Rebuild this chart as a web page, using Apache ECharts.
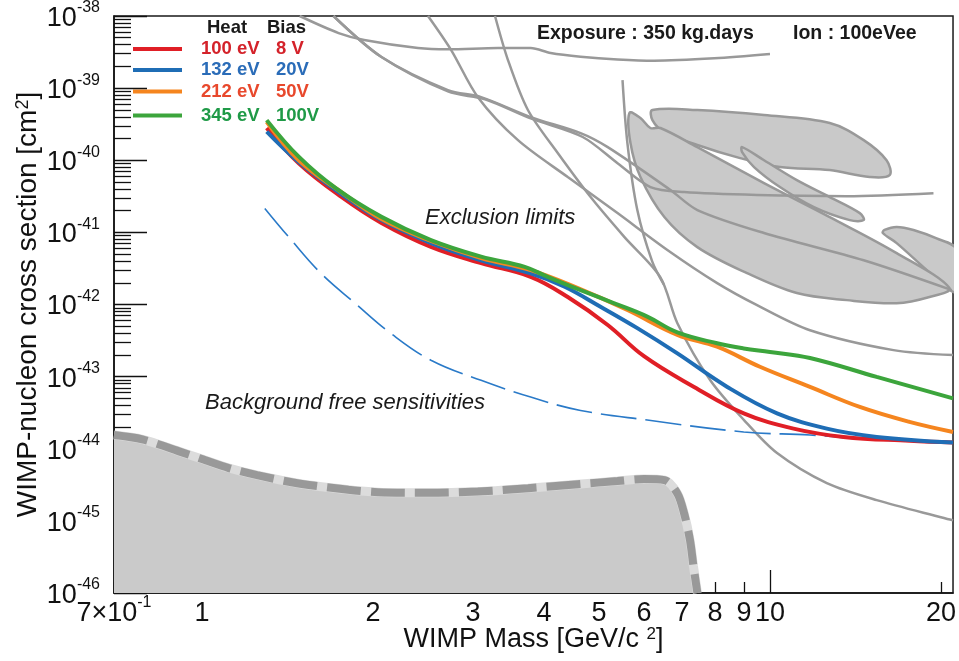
<!DOCTYPE html>
<html><head><meta charset="utf-8">
<script src="https://cdn.jsdelivr.net/npm/echarts@6/dist/echarts.min.js"></script>
<style>html,body{margin:0;padding:0;background:#fff}#c{width:959px;height:661px}</style>
</head><body><div id="c"></div>
<script>
// ---------------- axis ranges & ticks ----------------
const X_MIN = 0.7, X_MAX = 21;
const Y_MIN_EXP = -46, Y_MAX_EXP = -38;           // cross-section range 1e-46 .. 1e-38 cm^2
const xMinorTicks = [0.7, 0.8, 0.9, 2, 3, 4, 5, 6, 7, 8, 9, 20];
const xMajorTicks = [1, 10];
const xLabelValues = [0.7, 1, 2, 3, 4, 5, 6, 7, 8, 9, 10, 20];
const yDecadeExponents = [-46, -45, -44, -43, -42, -41, -40, -39, -38];
const yMinorMultipliers = [2, 3, 4, 5, 6, 7, 8, 9];

// ---------------- exclusion limits (cm^2) ----------------
const redMass   = [1.30, 1.48, 1.76, 2.07, 2.53, 3.10, 3.79, 4.405, 5.18, 6.0, 7.35, 8.99, 11.0, 13.47, 17.6, 21];
const redSigma  = [2.8e-40, 9.1e-41, 3.1e-41, 1.35e-41, 6.3e-42, 3.75e-42, 2.42e-42, 1.27e-42, 5.2e-43, 1.92e-43, 7.2e-44, 3.1e-44, 1.9e-44, 1.46e-44, 1.29e-44, 1.22e-44];
const blueMass  = [1.30, 1.48, 1.76, 2.07, 2.53, 3.10, 3.79, 4.35, 5.03, 5.84, 6.87, 8.41, 10.29, 12.59, 15.41, 21];
const blueSigma = [2.5e-40, 9.5e-41, 3.4e-41, 1.48e-41, 7.1e-42, 4.1e-42, 2.7e-42, 1.76e-42, 9.3e-43, 4.7e-43, 2.1e-43, 7.2e-44, 3.1e-44, 1.9e-44, 1.46e-44, 1.22e-44];
const orangeMass  = [1.30, 1.48, 1.76, 2.07, 2.53, 3.10, 3.79, 4.59, 5.61, 6.87, 8.07, 9.6, 11.76, 14.39, 17.6, 21];
const orangeSigma = [3.4e-40, 1.0e-40, 3.6e-41, 1.53e-41, 7.6e-42, 4.4e-42, 3.0e-42, 1.69e-42, 8.4e-43, 3.8e-43, 2.6e-43, 1.37e-43, 7.2e-44, 3.8e-44, 2.36e-44, 1.71e-44];
const greenMass  = [1.30, 1.48, 1.72, 2.07, 2.53, 3.10, 3.70, 4.06, 4.64, 5.32, 6.08, 6.87, 8.07, 8.99, 10.0, 11.76, 15.41, 21];
const greenSigma = [3.6e-40, 1.12e-40, 4.1e-41, 1.64e-41, 7.8e-42, 4.6e-42, 3.33e-42, 2.42e-42, 1.58e-42, 1.04e-42, 6.8e-43, 4.1e-43, 2.9e-43, 2.46e-43, 2.2e-43, 1.81e-43, 9.9e-44, 5.0e-44];

// background free sensitivity (dashed)
const bgMass  = [1.29, 1.42, 1.62, 1.86, 2.15, 2.53, 3.10, 3.79, 4.64, 6.08, 8.99, 11.76, 15.41, 21];
const bgSigma = [2.15e-41, 8.7e-42, 2.7e-42, 1.04e-42, 3.97e-43, 1.69e-43, 8.9e-44, 5.2e-44, 3.4e-44, 2.5e-44, 1.71e-44, 1.55e-44, 1.32e-44, 1.23e-44];

// grey shaded floor (thick dashed boundary)
const floorMass  = [0.7, 0.785, 0.911, 1.0, 1.115, 1.25, 1.48, 1.81, 2.04, 2.5, 3.06, 3.75, 4.59, 5.39, 6.0, 6.52, 6.87, 7.06, 7.23, 7.33, 7.45];
const floorSigma = [1.55e-44, 1.35e-44, 9.2e-45, 7.2e-45, 5.4e-45, 4.3e-45, 3.3e-45, 2.7e-45, 2.5e-45, 2.45e-45, 2.55e-45, 2.84e-45, 3.23e-45, 3.56e-45, 3.8e-45, 3.67e-45, 2.4e-45, 1.27e-45, 5.4e-46, 2.4e-46, 1.0e-46];

// other experiments (grey curves)
const gA_mass  = [1.486, 1.74, 1.93, 2.40, 2.71, 3.32, 3.79, 4.11, 4.64, 5.39, 6.25, 7.98, 10.0];
const gA_sigma = [1.0e-38, 5.8e-39, 4.65e-39, 3.6e-39, 3.45e-39, 3.6e-39, 3.6e-39, 3.07e-39, 2.73e-39, 2.5e-39, 2.4e-39, 2.59e-39, 2.97e-39];
const gB_mass  = [1.704, 2.07, 2.71, 3.10, 3.79, 4.64, 5.18, 6.67, 7.45, 9.76, 14.62, 20.9];
const gB_sigma = [1.0e-38, 2.7e-39, 9.4e-40, 7.5e-40, 3.97e-40, 2.38e-40, 1.52e-40, 3.9e-41, 2.04e-41, 9.8e-42, 4.1e-42, 1.58e-42];
const gH_mass  = [1.704, 2.07, 2.71, 3.15, 3.79, 4.68, 5.39, 6.16, 7.06, 9.49, 13.65, 19.4];
const gH_sigma = [1.0e-38, 2.7e-39, 9.0e-40, 7.0e-40, 3.8e-40, 2.1e-40, 9.1e-41, 4.25e-41, 3.62e-41, 3.3e-41, 3.18e-41, 3.5e-41];
const gL1_mass  = [2.50, 2.746, 3.06, 3.6, 4.405, 5.389, 6.596, 8.073, 9.489, 11.76, 16.5, 21];
const gL1_sigma = [1.0e-38, 3.37e-39, 7.5e-40, 1.9e-40, 5.85e-41, 1.85e-41, 5.7e-42, 1.98e-42, 9.8e-43, 4.4e-43, 2.33e-43, 1.99e-43];
const gL2_mass  = [3.28, 3.457, 3.748, 4.23, 4.833, 5.544, 6.41, 6.87, 7.85, 9.0, 10.29, 12.59, 15.41, 21];
const gL2_sigma = [1.0e-38, 2.45e-39, 4.97e-40, 1.26e-40, 3.09e-41, 8.6e-42, 2.4e-42, 5.5e-43, 8.9e-44, 2.5e-44, 8.7e-45, 3.33e-45, 1.94e-45, 1.02e-45];
const gE_mass  = [5.5, 5.61, 5.84, 6.2, 6.5];
const gE_sigma = [1.29e-39, 1.73e-40, 2.04e-41, 4.0e-42, 1.9e-42];

// grey closed contours
const whaleMass  = [6.209, 7.448, 9.761, 12.74, 14.62, 16.04, 16.24, 14.98, 12.74, 10.41, 8.859, 7.448, 6.516, 6.209];
const whaleSigma = [4.97e-40, 4.97e-40, 4.24e-40, 3.28e-40, 1.9e-40, 1.0e-40, 6.2e-41, 5.85e-41, 7.3e-41, 8.05e-41, 1.07e-40, 1.63e-40, 2.46e-40, 3.61e-40];
const fishMass  = [8.931, 9.761, 11.15, 12.74, 14.39, 14.62, 13.82, 11.95, 10.41, 9.374, 8.931];
const fishSigma = [1.52e-40, 1.0e-40, 5.3e-41, 3.09e-41, 1.85e-41, 1.48e-41, 1.48e-41, 2.24e-41, 4.25e-41, 8.05e-41, 1.3e-40];
const rightMass  = [15.91, 16.71, 17.89, 19.6, 21.3, 21.3, 20.7, 18.63, 16.71, 15.8];
const rightSigma = [1.08e-41, 1.19e-41, 1.08e-41, 8.3e-42, 5.8e-42, 1.5e-42, 1.6e-42, 3.3e-42, 7.1e-42, 9.8e-42];
const leafMass  = [5.657, 5.914, 6.158, 6.412, 7.448, 9.761, 12.74, 16.71, 20.7, 19.09, 16.71, 13.65, 11.15, 9.112, 7.448, 6.516, 5.914, 5.68];
const leafSigma = [4.52e-40, 3.85e-40, 2.8e-40, 2.8e-40, 1.52e-40, 4.83e-41, 1.63e-41, 5.16e-42, 1.69e-42, 1.27e-42, 1.04e-42, 1.15e-42, 1.44e-42, 2.72e-42, 6.25e-42, 1.63e-41, 5.85e-41, 1.73e-40];

// legend
const legendHeat = ['100 eV', '132 eV', '212 eV', '345 eV'];
const legendBias = ['8 V', '20V', '50V', '100V'];

// ---------------- styling ----------------
const FONT = "'Liberation Sans', Arial, Helvetica, sans-serif";
const RED = '#e01f26', BLUE = '#1f6db5', ORANGE = '#f5851f', GREEN = '#3ca53c';
const RED_T = '#d4222a', BLUE_T = '#2a6cb8', ORANGE_T = '#e8482c', GREEN_T = '#1f9a47';
const GREY = '#999999';
const legendLineColors = [RED, BLUE, ORANGE, GREEN];
const legendTextColors = [RED_T, BLUE_T, ORANGE_T, GREEN_T];

// The y axis is plotted in units of 1e-46 cm^2 (the axis minimum), labels show the cm^2 exponent.
const Y_UNIT_EXP = Y_MIN_EXP;
function toUnit(s) { return s * Number('1e' + (-Y_UNIT_EXP)); }
function pairs(m, s) { return m.map((v, i) => [v, toUnit(s[i])]); }

const yMajorTicks = yDecadeExponents.map(e => Number('1e' + (e - Y_UNIT_EXP)));
const yMinorTicks = [];
yDecadeExponents.slice(0, -1).forEach(e => yMinorMultipliers.forEach(k => yMinorTicks.push(Number(k + 'e' + (e - Y_UNIT_EXP)))));
const Y_MIN = Number('1e' + (Y_MIN_EXP - Y_UNIT_EXP)), Y_MAX = Number('1e' + (Y_MAX_EXP - Y_UNIT_EXP));

function greyLine(m, s) {
  return { type: 'line', data: pairs(m, s), symbol: 'none', smooth: 0.3, silent: true, z: 3,
           lineStyle: { color: GREY, width: 2.5 } };
}
function blob(m, s) {
  const d = pairs(m, s);
  return {
    type: 'custom', clip: true, silent: true, z: 2,
    data: d,
    renderItem: function (params, api) {
      if (params.dataIndex !== 0) return null;
      const pts = d.map(p => api.coord(p));
      return { type: 'polygon', shape: { points: pts, smooth: 0.35 },
               style: { fill: '#c9c9c9', stroke: GREY, lineWidth: 2.5 } };
    }
  };
}
function limit(m, s, color, z) {
  return { type: 'line', data: pairs(m, s), symbol: 'none', smooth: 0.4, silent: true, z: z,
           lineStyle: { color: color, width: 4 } };
}

const richTick = {
  b: { fontSize: 27, fontFamily: FONT, color: '#111', padding: [5, 0, 0, 0] },
  s: { fontSize: 16, fontFamily: FONT, color: '#111', verticalAlign: 'top' }
};
const richName = {
  a: { fontSize: 27, fontFamily: FONT, color: '#111' },
  s: { fontSize: 17, fontFamily: FONT, color: '#111', verticalAlign: 'top' }
};
const richNameY = {
  a: { fontSize: 28, fontFamily: FONT, color: '#111' },
  s: { fontSize: 18, fontFamily: FONT, color: '#111', verticalAlign: 'top' }
};

const graphic = [];
graphic.push({ type: 'text', x: 207, y: 28, style: { text: 'Heat', font: 'bold 18.5px ' + FONT, fill: '#1a1a1a', verticalAlign: 'middle', align: 'left' } });
graphic.push({ type: 'text', x: 267, y: 28, style: { text: 'Bias', font: 'bold 18.5px ' + FONT, fill: '#1a1a1a', verticalAlign: 'middle', align: 'left' } });
const legendRowsY = [49, 70, 91.5, 115.5];
legendHeat.forEach((h, i) => {
  const y = legendRowsY[i];
  graphic.push({ type: 'line', shape: { x1: 133, y1: y, x2: 182, y2: y }, style: { stroke: legendLineColors[i], lineWidth: 4 } });
  graphic.push({ type: 'text', x: 201, y: y, style: { text: h, font: 'bold 18.5px ' + FONT, fill: legendTextColors[i], verticalAlign: 'middle', align: 'left' } });
  graphic.push({ type: 'text', x: 276, y: y, style: { text: legendBias[i], font: 'bold 18.5px ' + FONT, fill: legendTextColors[i], verticalAlign: 'middle', align: 'left' } });
});
graphic.push({ type: 'text', x: 537, y: 34, style: { text: 'Exposure : 350 kg.days', font: 'bold 19.5px ' + FONT, fill: '#1a1a1a', verticalAlign: 'middle', align: 'left' } });
graphic.push({ type: 'text', x: 793, y: 34, style: { text: 'Ion : 100eVee', font: 'bold 19.5px ' + FONT, fill: '#1a1a1a', verticalAlign: 'middle', align: 'left' } });
graphic.push({ type: 'text', x: 425, y: 218, style: { text: 'Exclusion limits', font: 'italic 22px ' + FONT, fill: '#1a1a1a', verticalAlign: 'middle', align: 'left' } });
graphic.push({ type: 'text', x: 205, y: 403, style: { text: 'Background free sensitivities', font: 'italic 22px ' + FONT, fill: '#1a1a1a', verticalAlign: 'middle', align: 'left' } });

const option = {
  animation: false,
  backgroundColor: '#ffffff',
  grid: { left: 114, right: 3, top: 16, bottom: 68, show: true, borderColor: '#1a1a1a', borderWidth: 1.5, backgroundColor: 'transparent' },
  xAxis: [
    { type: 'log', logBase: 10, min: X_MIN, max: X_MAX, position: 'bottom',
      axisLine: { show: true, onZero: false, lineStyle: { color: '#111', width: 1.5 } },
      axisTick: { show: true, inside: true, length: 11, customValues: xMinorTicks, lineStyle: { color: '#111', width: 1.3 } },
      axisLabel: { show: true, customValues: xLabelValues, margin: 2, color: '#111', rich: richTick,
        formatter: function (v) { return Math.abs(v - 0.7) < 1e-9 ? '{b|7×10}{s|-1}' : '{b|' + v + '}'; } },
      splitLine: { show: false }, minorTick: { show: false },
      name: '{a|WIMP Mass [GeV/c }{s|2}{a|]}', nameLocation: 'middle', nameGap: 33, nameMoveOverlap: false,
      nameTextStyle: { rich: richName }
    },
    { type: 'log', logBase: 10, min: X_MIN, max: X_MAX, position: 'bottom',
      axisLine: { show: false },
      axisTick: { show: true, inside: true, length: 23, customValues: xMajorTicks, lineStyle: { color: '#111', width: 1.3 } },
      axisLabel: { show: false }, splitLine: { show: false }
    }
  ],
  yAxis: [
    { type: 'log', logBase: 10, min: Y_MIN, max: Y_MAX, position: 'left',
      axisLine: { show: true, onZero: false, lineStyle: { color: '#111', width: 1.5 } },
      axisTick: { show: true, inside: true, length: 33, customValues: yMajorTicks, lineStyle: { color: '#111', width: 1.3 } },
      axisLabel: { show: true, customValues: yMajorTicks, margin: 14, color: '#111', rich: richTick,
        formatter: function (v) { return '{b|10}{s|' + (Math.round(Math.log10(v)) + Y_UNIT_EXP) + '}'; } },
      splitLine: { show: false }, minorTick: { show: false },
      name: '{a|WIMP-nucleon cross section [cm}{s|2}{a|]}', nameLocation: 'middle', nameGap: 72, nameRotate: 90,
      nameMoveOverlap: false,
      nameTextStyle: { rich: richNameY }
    },
    { type: 'log', logBase: 10, min: Y_MIN, max: Y_MAX, position: 'left',
      axisLine: { show: false },
      axisTick: { show: true, inside: true, length: 17, customValues: yMinorTicks, lineStyle: { color: '#111', width: 1.3 } },
      axisLabel: { show: false }, splitLine: { show: false }
    }
  ],
  graphic: graphic,
  series: [
    { type: 'line', data: pairs(floorMass, floorSigma), symbol: 'none', smooth: 0.3, silent: true, z: 1,
      lineStyle: { color: '#dcdcdc', width: 9 }, areaStyle: { color: '#cacaca', origin: 'start', opacity: 1 } },
    blob(whaleMass, whaleSigma),
    blob(fishMass, fishSigma),
    blob(rightMass, rightSigma),
    blob(leafMass, leafSigma),
    greyLine(gA_mass, gA_sigma),
    greyLine(gB_mass, gB_sigma),
    greyLine(gH_mass, gH_sigma),
    greyLine(gL1_mass, gL1_sigma),
    greyLine(gL2_mass, gL2_sigma),
    greyLine(gE_mass, gE_sigma),
    { type: 'line', data: pairs(floorMass, floorSigma), symbol: 'none', smooth: 0.3, silent: true, z: 4,
      lineStyle: { color: '#999999', width: 8, type: [34, 10], cap: 'butt' } },
    { type: 'line', data: pairs(bgMass, bgSigma), symbol: 'none', smooth: 0.4, silent: true, z: 5,
      lineStyle: { color: '#2a7ac8', width: 1.6, type: [36, 9] } },
    limit(redMass, redSigma, RED, 6),
    limit(blueMass, blueSigma, BLUE, 7),
    limit(orangeMass, orangeSigma, ORANGE, 8),
    limit(greenMass, greenSigma, GREEN, 9)
  ]
};
const chart = echarts.init(document.getElementById('c'), null, { renderer: 'canvas' });
chart.setOption(option);
</script>
</body></html>
